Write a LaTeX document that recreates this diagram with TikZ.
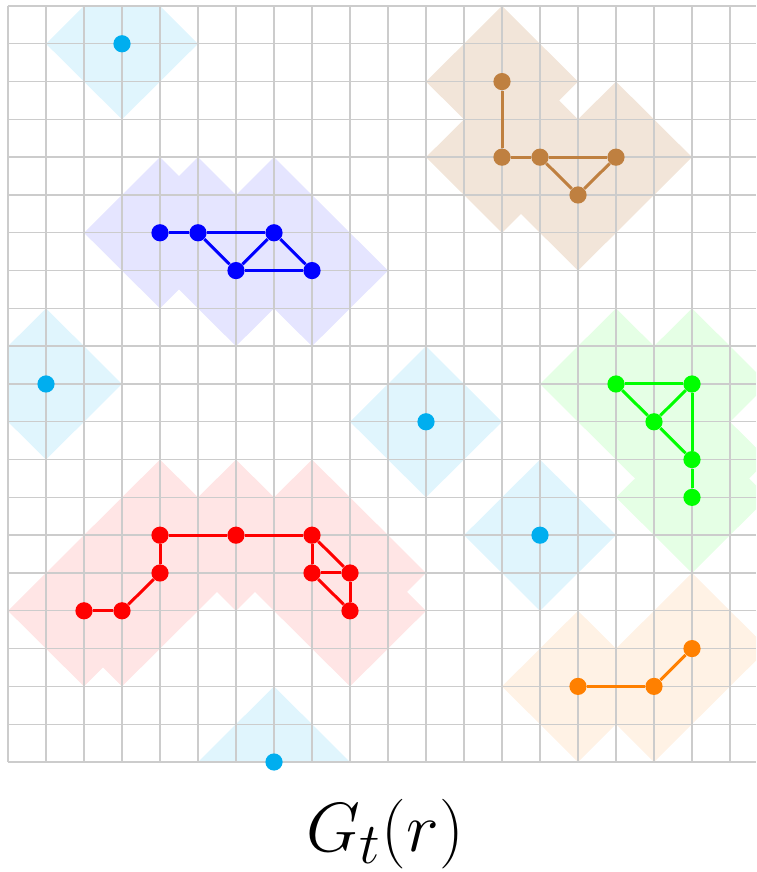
\documentclass[tikz,border=0pt]{standalone}
\pgfdeclarelayer{fills}
\pgfdeclarelayer{gridlayer}
\pgfsetlayers{fills,gridlayer,main}
\definecolor{dotcyan}{RGB}{0,174,239}
\definecolor{mybrown}{RGB}{191,128,64}
\definecolor{mygreen}{RGB}{0,255,0}
\definecolor{myorange}{RGB}{255,128,0}
\begin{document}
\begin{tikzpicture}[x=19pt,y=18.9pt,
  dot/.style={circle,fill=#1,draw=none,inner sep=0pt,minimum size=8.6pt},
  link/.style={line width=1.5pt,draw=#1},
  gridline/.style={draw=gray!40,line width=0.7pt}]
\useasboundingbox (-4pt,-55pt) rectangle (374pt,381pt);
% isolated cyan vertices
\node[dot=dotcyan] (c1) at (3,19) {};
\node[dot=dotcyan] (c2) at (1,10) {};
\node[dot=dotcyan] (c3) at (11,9) {};
\node[dot=dotcyan] (c4) at (14,6) {};
\node[dot=dotcyan] (c5) at (7,0) {};
% brown
\node[dot=mybrown] (w1) at (13,18) {};
\node[dot=mybrown] (w2) at (13,16) {};
\node[dot=mybrown] (w3) at (14,16) {};
\node[dot=mybrown] (w4) at (16,16) {};
\node[dot=mybrown] (w5) at (15,15) {};
% blue
\node[dot=blue] (b1) at (4,14) {};
\node[dot=blue] (b2) at (5,14) {};
\node[dot=blue] (b3) at (7,14) {};
\node[dot=blue] (b4) at (6,13) {};
\node[dot=blue] (b5) at (8,13) {};
% green
\node[dot=mygreen] (g1) at (16,10) {};
\node[dot=mygreen] (g2) at (18,10) {};
\node[dot=mygreen] (g3) at (17,9) {};
\node[dot=mygreen] (g4) at (18,8) {};
\node[dot=mygreen] (g5) at (18,7) {};
% red
\node[dot=red] (r1) at (2,4) {};
\node[dot=red] (r2) at (3,4) {};
\node[dot=red] (r3) at (4,5) {};
\node[dot=red] (r4) at (4,6) {};
\node[dot=red] (r5) at (6,6) {};
\node[dot=red] (r6) at (8,6) {};
\node[dot=red] (r7) at (8,5) {};
\node[dot=red] (r8) at (9,5) {};
\node[dot=red] (r9) at (9,4) {};
% orange
\node[dot=myorange] (o1) at (15,2) {};
\node[dot=myorange] (o2) at (17,2) {};
\node[dot=myorange] (o3) at (18,3) {};
% edges
\draw[link=mybrown] (w1) -- (w2);
\draw[link=mybrown] (w2) -- (w3);
\draw[link=mybrown] (w3) -- (w4);
\draw[link=mybrown] (w4) -- (w5);
\draw[link=mybrown] (w5) -- (w3);
\draw[link=blue] (b1) -- (b2);
\draw[link=blue] (b2) -- (b3);
\draw[link=blue] (b2) -- (b4);
\draw[link=blue] (b4) -- (b3);
\draw[link=blue] (b3) -- (b5);
\draw[link=blue] (b4) -- (b5);
\draw[link=mygreen] (g1) -- (g2);
\draw[link=mygreen] (g1) -- (g3);
\draw[link=mygreen] (g3) -- (g2);
\draw[link=mygreen] (g2) -- (g4);
\draw[link=mygreen] (g3) -- (g4);
\draw[link=mygreen] (g4) -- (g5);
\draw[link=red] (r1) -- (r2);
\draw[link=red] (r2) -- (r3);
\draw[link=red] (r3) -- (r4);
\draw[link=red] (r4) -- (r5);
\draw[link=red] (r5) -- (r6);
\draw[link=red] (r6) -- (r7);
\draw[link=red] (r6) -- (r8);
\draw[link=red] (r7) -- (r8);
\draw[link=red] (r7) -- (r9);
\draw[link=red] (r8) -- (r9);
\draw[link=myorange] (o1) -- (o2);
\draw[link=myorange] (o2) -- (o3);
% label
\node[font=\Huge, scale=1.4, anchor=base] (lbl) at (9.92,-2.38) {$G_t(r)$};
% grid
\begin{pgfonlayer}{gridlayer}
\foreach \i in {0,...,19} \draw[gridline] (\i,0) -- (\i,20);
\foreach \j in {0,...,20} \draw[gridline] (0,\j) -- (19.684,\j);
\end{pgfonlayer}
% shaded balls
\begin{pgfonlayer}{fills}
\begin{scope}
\clip (0,0) rectangle (19.684,20);
\fill[dotcyan!12] \foreach \n in {c1,c2,c3,c4,c5} { (\n) +(2,0) -- +(0,2) -- +(-2,0) -- +(0,-2) -- cycle };
\fill[mybrown!20] \foreach \n in {w1,w2,w3,w4,w5} { (\n) +(2,0) -- +(0,2) -- +(-2,0) -- +(0,-2) -- cycle };
\fill[blue!10] \foreach \n in {b1,b2,b3,b4,b5} { (\n) +(2,0) -- +(0,2) -- +(-2,0) -- +(0,-2) -- cycle };
\fill[mygreen!10] \foreach \n in {g1,g2,g3,g4,g5} { (\n) +(2,0) -- +(0,2) -- +(-2,0) -- +(0,-2) -- cycle };
\fill[red!10] \foreach \n in {r1,r2,r3,r4,r5,r6,r7,r8,r9} { (\n) +(2,0) -- +(0,2) -- +(-2,0) -- +(0,-2) -- cycle };
\fill[myorange!10] \foreach \n in {o1,o2,o3} { (\n) +(2,0) -- +(0,2) -- +(-2,0) -- +(0,-2) -- cycle };
\end{scope}
\end{pgfonlayer}
\end{tikzpicture}
\end{document}
